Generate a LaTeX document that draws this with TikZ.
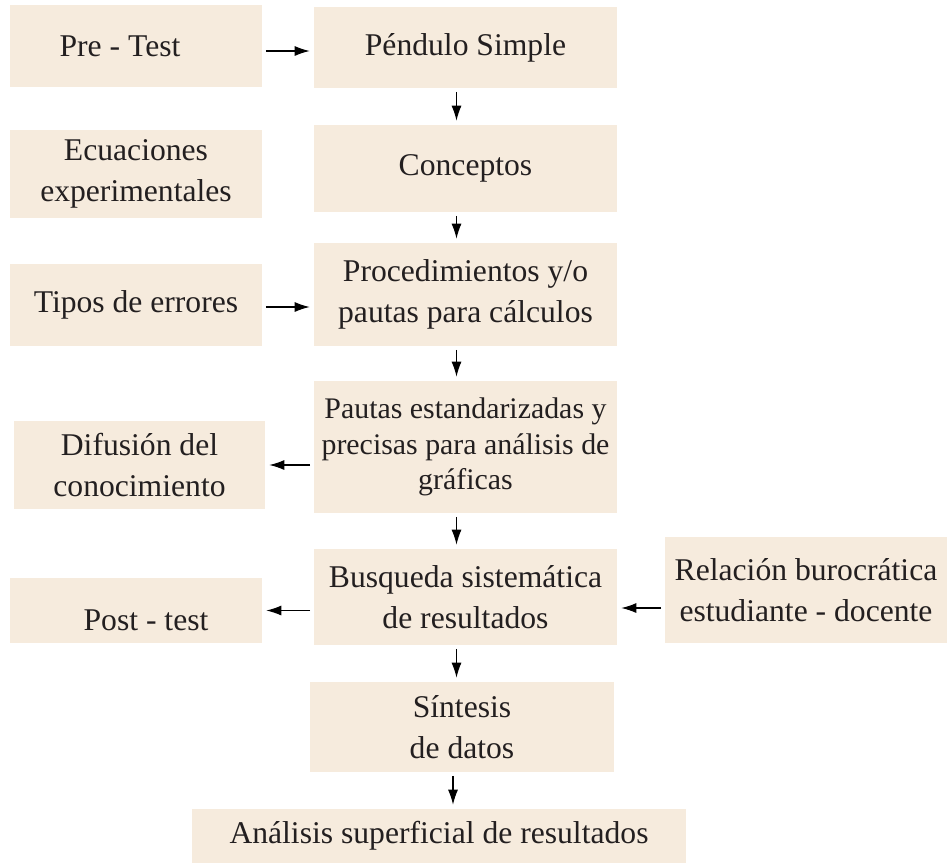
\documentclass[tikz,border=0pt]{standalone}
\usepackage{fontspec}
\setmainfont{Liberation Serif}
\usetikzlibrary{arrows.meta}
\definecolor{boxfill}{RGB}{246,235,221}
\definecolor{inkcol}{RGB}{35,31,32}
\tikzset{
  box/.style={fill=boxfill, inner sep=0pt, align=center, text=inkcol,
    font=\fontsize{18}{23.2}\selectfont},
  arr/.style={line width=0.6pt, draw=black, -{Latex[length=0.3cm,width=0.2cm]},
    shorten <=0.07cm, shorten >=0.08cm}
}
\begin{document}
\begin{tikzpicture}
			%%%%% START %%%%%
			\useasboundingbox (0, 0) rectangle (18.94, -17.26);
			
			% left column
			\node[box, minimum width=5.04cm, minimum height=1.64cm] (pre) at (2.72, -0.92) {\makebox[0pt]{\hspace{-0.64cm}Pre - Test}};
			\node[box, minimum width=5.04cm, minimum height=1.76cm] (ecu) at (2.72, -3.48) {Ecuaciones\\experimentales};
			\node[box, minimum width=5.04cm, minimum height=1.64cm] (tipos) at (2.72, -6.10) {Tipos de errores};
			\node[box, minimum width=5.02cm, minimum height=1.76cm] (difu) at (2.79, -9.30) {Difusión del\\conocimiento};
			\node[box, minimum width=5.04cm, minimum height=1.30cm] (post) at (2.72, -12.21) {\raisebox{-0.4cm}[0pt][0pt]{\makebox[0pt]{\hspace{0.4cm}Post - test}}};
			
			% middle column
			\node[box, minimum width=6.06cm, minimum height=1.62cm] (pend) at (9.31, -0.95) {Péndulo Simple};
			\node[box, minimum width=6.06cm, minimum height=1.74cm] (conc) at (9.31, -3.37) {Conceptos};
			\node[box, minimum width=6.06cm, minimum height=2.06cm] (proc) at (9.31, -5.89) {Procedimientos y/o\\pautas para cálculos};
			\node[box, minimum width=6.06cm, minimum height=2.64cm, font=\fontsize{17}{20.4}\selectfont] (pautas) at (9.31, -8.94) {Pautas estandarizadas y\\precisas para análisis de\\gráficas};
			\node[box, minimum width=6.06cm, minimum height=1.92cm] (busq) at (9.31, -11.94) {Busqueda sistemática\\de resultados};
			\node[box, minimum width=6.08cm, minimum height=1.80cm] (sint) at (9.24, -14.54) {Síntesis\\de datos};
			\node[box, minimum width=9.88cm, minimum height=1.08cm] (anal) at (8.78, -16.72) {Análisis superficial de resultados};
			
			% right column
			\node[box, minimum width=5.64cm, minimum height=2.12cm] (rel) at (16.12, -11.80) {Relación burocrática\\estudiante - docente};
			
			% arrows down the middle
			\foreach \a/\b in {pend/conc, conc/proc, proc/pautas, pautas/busq, busq/sint, sint/anal}
				\draw[arr] ([xshift=-0.18cm]\a.south) -- ([xshift=-0.18cm]\a.south |- \b.north);
			
			% arrows across
			\draw[arr] ([yshift=-0.1cm]pre.east) -- ([yshift=-0.1cm]pre.east -| pend.west);
			\draw[arr] ([yshift=-0.04cm]tipos.east) -- ([yshift=-0.04cm]tipos.east -| proc.west);
			\draw[arr] (pautas.west |- difu) -- (difu);
			\draw[arr] (busq.west |- post) -- (post);
			\draw[arr] ([yshift=-0.36cm]rel.west) -- ([yshift=-0.36cm]rel.west -| busq.east);
			%%%%% END %%%%%
		\end{tikzpicture}
\end{document}
